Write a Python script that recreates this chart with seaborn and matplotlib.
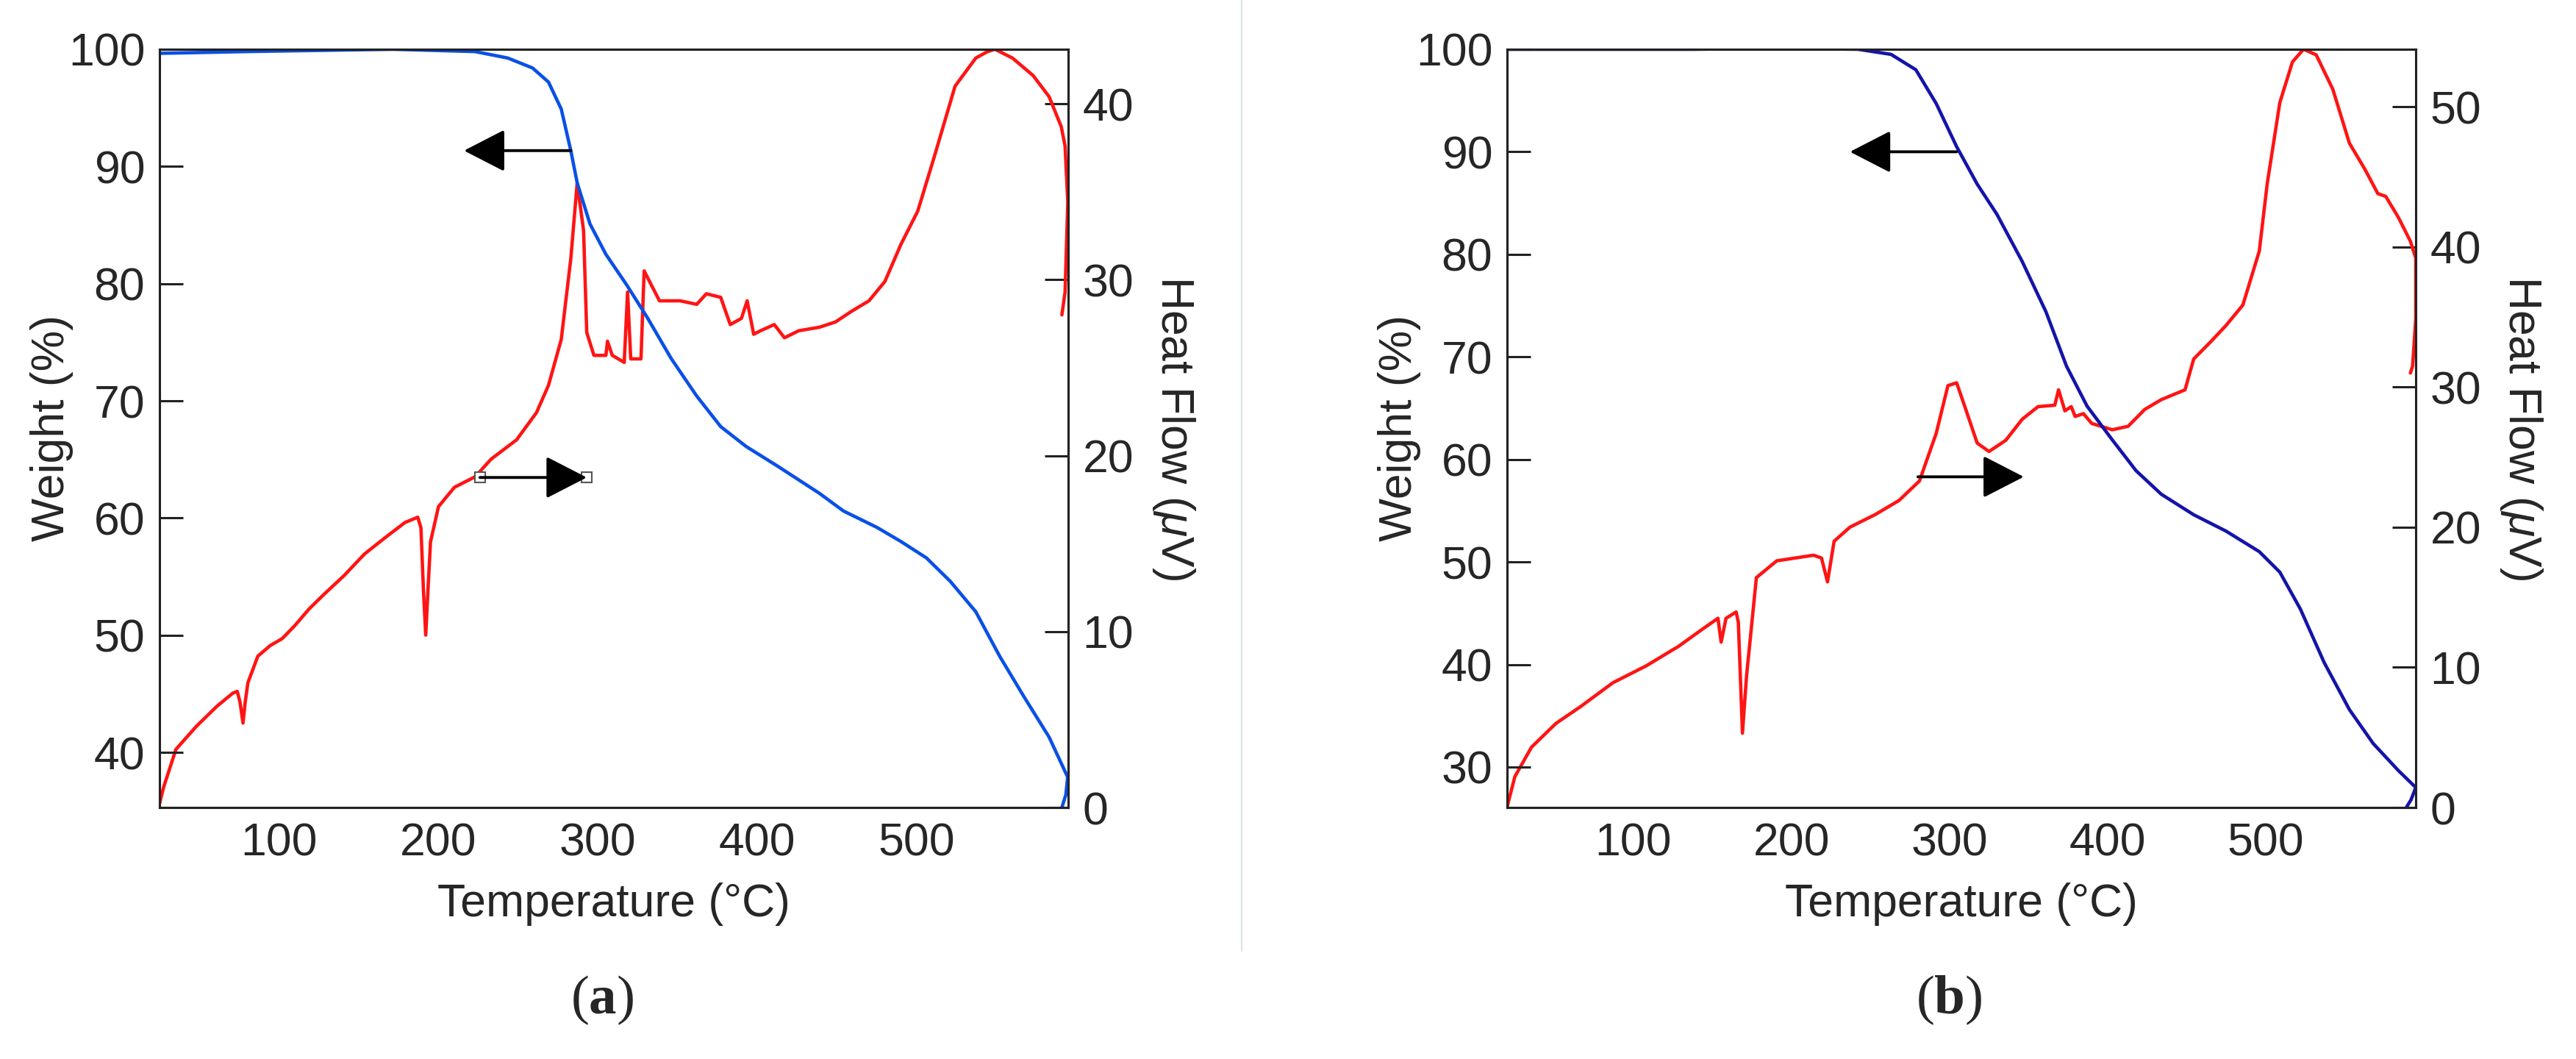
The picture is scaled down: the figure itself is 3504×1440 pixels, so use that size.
import matplotlib
matplotlib.use("Agg")
import matplotlib.pyplot as plt
import seaborn as sns
import pandas as pd

# ---------------- data: panel (a) ----------------
a_tga_T = [25, 79, 171.5, 223, 243.5, 259, 269, 277, 283, 287, 295, 305, 318, 331, 346, 362, 377, 393,
           413, 439, 454, 475, 490, 506, 521, 537, 552, 567, 583, 594.6, 593.5, 591]
a_tga_W = [99.65, 99.8, 100, 99.8, 99.25, 98.4, 97.2, 94.9, 91.35, 88.6, 85.1, 82.5, 79.9, 77.1, 73.6,
           70.4, 67.8, 66.1, 64.4, 62.1, 60.6, 59.2, 58.0, 56.6, 54.6, 52.0, 48.2, 44.8, 41.3, 37.9, 36.4, 35.3]

a_dta_T = [25, 27.6, 35.3, 48, 61, 71, 73.8, 75.5, 77.4, 78.8, 80.5, 86.7, 94.4, 102, 110, 119, 128, 141,
           153.5, 166, 179, 187, 189, 190.5, 192, 193.5, 195, 200, 210, 223, 233, 249, 261.5, 269, 277,
           283, 287, 291, 293, 297.5, 305, 306, 309, 316.5, 318.6, 320.6, 327, 329, 333.5, 338.6, 351.5,
           362, 368, 377, 383, 390, 393.6, 397.7, 402, 410.6, 417, 426, 439, 449, 459, 470, 480, 490,
           500.6, 511, 524, 537, 544, 549, 560, 573, 583, 590.6, 593, 594.7, 593, 591]
a_dta_H = [0.2, 1.15, 3.3, 4.6, 5.75, 6.5, 6.6, 6.0, 4.8, 6.0, 7.1, 8.6, 9.2, 9.6, 10.35, 11.3, 12.1, 13.2,
           14.4, 15.3, 16.2, 16.5, 15.9, 12.5, 9.8, 12.5, 15.1, 17.1, 18.2, 18.8, 19.8, 20.9, 22.45, 24.0,
           26.6, 31.2, 35.5, 32.8, 27.0, 25.7, 25.7, 26.5, 25.7, 25.3, 29.3, 25.5, 25.5, 30.5, 29.7, 28.8,
           28.8, 28.6, 29.2, 29.0, 27.45, 27.8, 28.8, 26.9, 27.1, 27.45, 26.7, 27.1, 27.3, 27.6, 28.2,
           28.8, 29.9, 32.0, 33.9, 37.0, 41.0, 42.6, 42.95, 43.1, 42.6, 41.6, 40.4, 38.7, 37.6, 34.4, 29.3, 28.0]

# ---------------- data: panel (b) ----------------
b_tga_T = [20, 139, 190.7, 242, 263, 278.7, 291.6, 304.5, 317.5, 330, 346, 361, 374, 387, 403, 418, 434,
           454.5, 475, 496, 509, 522, 537, 553, 568, 584, 595, 592, 589]
b_tga_W = [100, 100, 100.1, 100, 99.5, 98.0, 94.7, 90.5, 86.85, 83.9, 79.3, 74.4, 69.1, 65.2, 61.9, 58.9,
           56.6, 54.6, 53.0, 51.0, 49.0, 45.4, 40.2, 35.6, 32.3, 29.65, 28.0, 26.8, 26.05]

b_dta_T = [20, 25, 35.5, 51, 66.6, 87, 108, 128.6, 144, 153.5, 155.5, 158.6, 165, 166.4, 169, 171.6, 177.8,
           190.7, 214, 219, 222.8, 227, 237, 253, 268, 281, 291.6, 299, 304.5, 309.7, 317.5, 325, 335.6,
           346, 356, 366.6, 369, 373, 377, 379.5, 384.7, 390, 403, 413, 423.5, 434, 449, 454.5, 465, 475,
           485.6, 496, 501, 509, 517, 524, 532, 542.5, 553, 563, 571, 576, 584, 591.6, 595, 595, 593,
           591.6]
b_dta_H = [0, 2.2, 4.3, 6.0, 7.2, 8.9, 10.1, 11.5, 12.75, 13.5, 11.8, 13.5, 13.95, 13.2, 5.3, 9.4, 16.4,
           17.6, 18.0, 17.8, 16.1, 19.0, 20.0, 20.9, 21.9, 23.3, 26.7, 30.1, 30.3, 28.6, 26.0, 25.4, 26.2,
           27.7, 28.6, 28.7, 29.8, 28.3, 28.6, 27.9, 28.1, 27.4, 26.95, 27.2, 28.4, 29.1, 29.8, 32.0, 33.2,
           34.4, 35.85, 39.7, 44.5, 50.3, 53.2, 54.1, 53.7, 51.25, 47.4, 45.5, 43.8, 43.6, 42.1, 40.4, 39.2,
           34.9, 31.5, 31.0]

# axis settings
x_ticks = [100, 200, 300, 400, 500]
a_w_ticks = [40, 50, 60, 70, 80, 90, 100]
a_h_ticks = [0, 10, 20, 30, 40]
b_w_ticks = [30, 40, 50, 60, 70, 80, 90, 100]
b_h_ticks = [0, 10, 20, 30, 40, 50]
a_xlim, a_wlim, a_hlim = (25, 595), (35.3, 100), (0, 43.1)
b_xlim, b_wlim, b_hlim = (20, 595), (26.05, 100), (0, 54.1)

# arrow annotations (data coords on weight axis): (tail_x, tip_x, y)
a_left_arrow = (283, 216, 91.35)
a_right_arrow = (226, 293, 63.46)
b_left_arrow = (304.5, 237, 90.0)
b_right_arrow = (280, 347, 58.3)

xlabel = "Temperature (°C)"
ylabel_l = "Weight (%)"
ylabel_r = r"Heat Flow ($\mu$V)"
panel_labels = [r"$\mathrm{(}\mathbf{a}\mathrm{)}$", r"$\mathrm{(}\mathbf{b}\mathrm{)}$"]

# ---------------- style ----------------
sns.set_style("white")
plt.rcParams["font.family"] = ["Liberation Sans", "DejaVu Sans"]
plt.rcParams["mathtext.fontset"] = "custom"
plt.rcParams["mathtext.it"] = "Liberation Sans:italic"
plt.rcParams["mathtext.rm"] = "Liberation Serif"
plt.rcParams["mathtext.bf"] = "Liberation Serif:bold"
plt.rcParams["mathtext.sf"] = "Liberation Serif:italic"

FS = 45
SPINE = "#222222"
RED = "#ff1414"

fig = plt.figure(figsize=(35.04, 14.4), dpi=100)


def panel(left, tga_T, tga_W, dta_T, dta_H, blue, xlim, wlim, hlim, wt, ht, larrow, rarrow, handles):
    ax = fig.add_axes([left, 0.2375, 0.3528, 0.716])
    ax2 = ax.twinx()
    df1 = pd.DataFrame({"T": tga_T, "W": tga_W})
    df2 = pd.DataFrame({"T": dta_T, "H": dta_H})
    sns.lineplot(data=df1, x="T", y="W", ax=ax, color=blue, lw=3.3, sort=False, estimator=None)
    sns.lineplot(data=df2, x="T", y="H", ax=ax2, color=RED, lw=3.3, sort=False, estimator=None)
    ax.set_xlim(*xlim)
    ax.set_ylim(*wlim)
    ax2.set_ylim(*hlim)
    ax.set_xticks(x_ticks)
    ax.set_yticks(wt)
    ax2.set_yticks(ht)
    for a in (ax, ax2):
        for s in a.spines.values():
            s.set_color(SPINE)
            s.set_linewidth(2.2)
    ax.tick_params(axis="both", direction="in", length=23, width=2.2, color=SPINE,
                   labelsize=FS, pad=14, top=False, right=False)
    ax2.tick_params(axis="y", direction="in", length=23, width=2.2, color=SPINE,
                    labelsize=FS, pad=14)
    ax.set_xlabel(xlabel, fontsize=FS, labelpad=17)
    ax.set_ylabel(ylabel_l, fontsize=FS, labelpad=-5)
    ax2.set_ylabel(ylabel_r, fontsize=FS, rotation=270, labelpad=62)
    ax.set_zorder(ax2.get_zorder() + 1)
    ax.patch.set_visible(False)
    for (t0, t1, y) in (larrow, rarrow):
        ax.annotate("", xy=(t1, y), xytext=(t0, y), xycoords="data",
                    arrowprops=dict(arrowstyle="-|>,head_length=0.7,head_width=0.36",
                                    mutation_scale=50, lw=2.8, color="black",
                                    shrinkA=0, shrinkB=0))
    if handles:
        t0, t1, y = rarrow
        ax.plot([t0, t1], [y, y], ls="none", marker="s", ms=10, mfc="white",
                mec="#555555", mew=1.5)
    return ax


panel(0.0619, a_tga_T, a_tga_W, a_dta_T, a_dta_H, "#0a50e6", a_xlim, a_wlim, a_hlim,
      a_w_ticks, a_h_ticks, a_left_arrow, a_right_arrow, True)
panel(0.5850, b_tga_T, b_tga_W, b_dta_T, b_dta_H, "#1414aa", b_xlim, b_wlim, b_hlim,
      b_w_ticks, b_h_ticks, b_left_arrow, b_right_arrow, False)

fig.text(819 / 3504, 0.0556, panel_labels[0], fontsize=54, ha="center", va="center")
fig.text(2651 / 3504, 0.0556, panel_labels[1], fontsize=54, ha="center", va="center")

fig.add_artist(plt.Line2D([1689 / 3504, 1689 / 3504], [1.0, 1 - 1293 / 1440],
                          transform=fig.transFigure, color="#dbe6de", lw=1.6))

fig.savefig("out.png", dpi=100)
